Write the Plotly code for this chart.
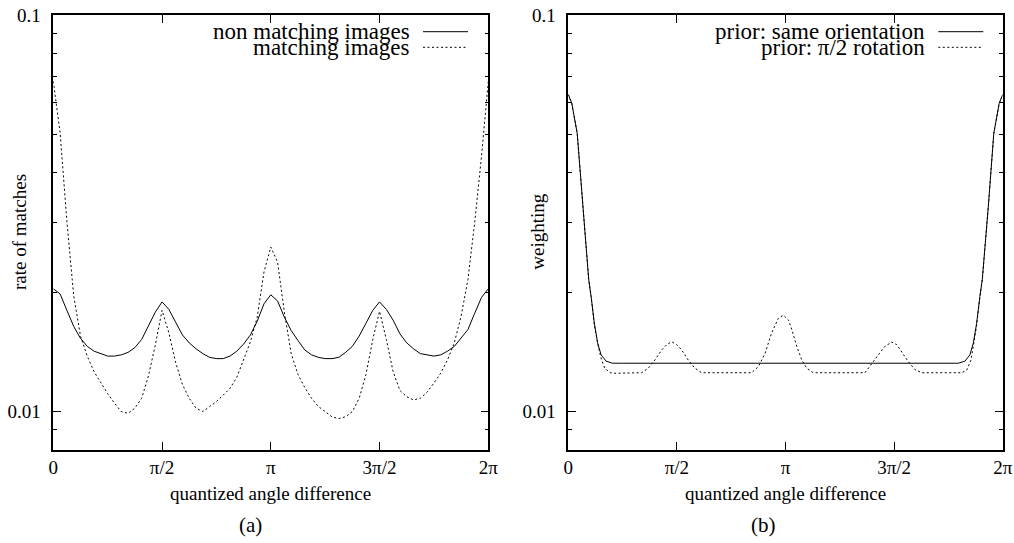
"""Rate of matches / weighting vs quantized angle difference (two panels)."""

import math

import plotly.graph_objects as go

FONT = "Liberation Serif, Times New Roman, Times, serif"

# ---- panel (a): 64 quantized bins over [0, 2pi], x given in units of pi
ANGLE_BINS_A = [i / 32 for i in range(65)]

NON_MATCHING = [
    0.0204, 0.0198, 0.0180, 0.0164, 0.0153, 0.0146, 0.0142, 0.0140,
    0.0138, 0.0138, 0.0139, 0.0141, 0.0145, 0.0152, 0.0164, 0.0178,
    0.0189, 0.0181, 0.0168, 0.0156, 0.0149, 0.0144, 0.0140, 0.0137,
    0.0136, 0.0136, 0.0138, 0.0142, 0.0148, 0.0156, 0.0169, 0.0187,
    0.0197, 0.0190, 0.0173, 0.0160, 0.0151, 0.0143, 0.0139, 0.0137,
    0.0136, 0.0136, 0.0137, 0.0141, 0.0146, 0.0155, 0.0167, 0.0180,
    0.0189, 0.0181, 0.0170, 0.0157, 0.0149, 0.0144, 0.0140, 0.0139,
    0.0138, 0.0139, 0.0142, 0.0146, 0.0153, 0.0161, 0.0177, 0.0194,
    0.0204,
]

MATCHING = [
    0.0680, 0.0505, 0.0302, 0.0196, 0.0155, 0.0138, 0.0126, 0.0118,
    0.0111, 0.0105, 0.0100, 0.0099, 0.0102, 0.0108, 0.0123, 0.0147,
    0.0180, 0.0158, 0.0133, 0.0117, 0.0108, 0.0102, 0.0100, 0.0103,
    0.0106, 0.0110, 0.01145, 0.0122, 0.0135, 0.0150, 0.0173, 0.0225,
    0.0260, 0.0238, 0.0178, 0.0140, 0.0124, 0.0115, 0.0108, 0.0103,
    0.0100, 0.0097, 0.0096, 0.0097, 0.0100, 0.0108, 0.0124, 0.0152,
    0.0179, 0.0152, 0.0126, 0.0113, 0.0109, 0.0107, 0.0108, 0.0112,
    0.0118, 0.0125, 0.0135, 0.0149, 0.0174, 0.0215, 0.0300, 0.0440,
    0.0680,
]

# ---- panel (b): smooth priors, x in units of pi
ANGLE_SAME = [
    0, 0.016, 0.041, 0.066, 0.094, 0.105, 0.12, 0.135, 0.151, 0.174,
    0.204, 0.25, 0.5, 0.75, 1.0, 1.25, 1.5, 1.75, 1.796, 1.826, 1.849,
    1.865, 1.88, 1.895, 1.906, 1.934, 1.959, 1.984, 2.0,
]
PRIOR_SAME = [
    0.063, 0.0599, 0.0503, 0.0330, 0.0215, 0.0195, 0.0167, 0.0149, 0.0139,
    0.0134, 0.01324, 0.01324, 0.01324, 0.01324, 0.01324, 0.01324, 0.01324,
    0.01324, 0.01324, 0.0134, 0.0139, 0.0149, 0.0167, 0.0195, 0.0215,
    0.0330, 0.0503, 0.0599, 0.063,
]

ANGLE_ROT = [
    0, 0.016, 0.041, 0.066, 0.094, 0.105, 0.12, 0.138, 0.153, 0.168,
    0.192, 0.215, 0.338, 0.368, 0.399, 0.430, 0.453, 0.476, 0.499, 0.522,
    0.552, 0.583, 0.614, 0.844, 0.875, 0.906, 0.936, 0.967, 0.990, 1.014,
    1.029, 1.052, 1.075, 1.098, 1.128, 1.366, 1.397, 1.427, 1.458, 1.489,
    1.512, 1.535, 1.565, 1.596, 1.627, 1.811, 1.834, 1.854, 1.865, 1.88,
    1.895, 1.906, 1.934, 1.959, 1.984, 2.0,
]
PRIOR_ROT = [
    0.063, 0.0599, 0.0503, 0.0330, 0.0215, 0.0195, 0.0165, 0.0146, 0.01349,
    0.01286, 0.01253, 0.01249, 0.01253, 0.01286, 0.01349, 0.0143, 0.01475,
    0.0150, 0.01475, 0.0143, 0.01349, 0.01286, 0.01253, 0.01253, 0.01298,
    0.01403, 0.01578, 0.01719, 0.0175, 0.0170, 0.0161, 0.0146, 0.01349,
    0.01286, 0.01253, 0.01253, 0.01316, 0.01389, 0.0146, 0.01497, 0.01475,
    0.01416, 0.01337, 0.01276, 0.01253, 0.01253, 0.0127, 0.01349, 0.0146,
    0.0165, 0.0195, 0.0215, 0.0330, 0.0503, 0.0599, 0.063,
]

X_TICKS = [0, 0.5, 1, 1.5, 2]
X_TICK_LABELS = ["0", "π/2", "π", "3π/2", "2π"]
Y_TICKS = [0.01, 0.1]
Y_TICK_LABELS = ["0.01", "0.1"]
Y_MINOR = [0.008, 0.009, 0.02, 0.03, 0.04, 0.05, 0.06, 0.07, 0.08, 0.09]

DOTTED = "2px,2.5px"

W, H = 1014, 543


def fx(px):
    return px / W


def fy(py):
    return 1 - py / H


fig = go.Figure()

fig.add_trace(go.Scatter(x=ANGLE_BINS_A, y=NON_MATCHING, mode="lines",
                         name="non matching images",
                         line=dict(color="black", width=1), showlegend=False))
fig.add_trace(go.Scatter(x=ANGLE_BINS_A, y=MATCHING, mode="lines",
                         name="matching images",
                         line=dict(color="black", width=1, dash=DOTTED),
                         showlegend=False))
fig.add_trace(go.Scatter(x=ANGLE_SAME, y=PRIOR_SAME, mode="lines",
                         name="prior: same orientation", xaxis="x2", yaxis="y2",
                         line=dict(color="black", width=1), showlegend=False))
fig.add_trace(go.Scatter(x=ANGLE_ROT, y=PRIOR_ROT, mode="lines",
                         name="prior: π/2 rotation", xaxis="x2", yaxis="y2",
                         line=dict(color="black", width=1, dash=DOTTED),
                         showlegend=False))

# plot areas in window pixels
left_a, right_a = 53.3, 488.3
left_b, right_b = 568.3, 1002.7
top, bottom = 15, 450

common_x = dict(
    range=[0, 2], tickvals=X_TICKS, ticktext=X_TICK_LABELS,
    ticks="inside", ticklen=8, tickwidth=1, tickcolor="black",
    showline=True, linecolor="black", linewidth=1.5, mirror="ticks",
    showgrid=False, zeroline=False, ticklabelstandoff=-1, automargin=False,
    ticklabeloverflow="allow",
    tickfont=dict(family=FONT, size=19, color="black"),
)
common_y = dict(
    type="log", range=[math.log10(0.008), -1],
    tickvals=Y_TICKS, ticktext=Y_TICK_LABELS,
    ticks="inside", ticklen=8, tickwidth=1, tickcolor="black",
    minor=dict(tickvals=Y_MINOR, ticks="inside", ticklen=4, tickcolor="black",
               showgrid=False),
    showline=True, linecolor="black", linewidth=1.5, mirror="ticks",
    showgrid=False, zeroline=False, ticklabelstandoff=7, automargin=False,
    ticklabeloverflow="allow",
    tickfont=dict(family=FONT, size=19, color="black"),
)
ydom = [fy(bottom), fy(top)]

fig.update_layout(
    width=W, height=H, autosize=False,
    margin=dict(l=0, r=0, t=0, b=0),
    paper_bgcolor="white", plot_bgcolor="white",
    font=dict(family=FONT, color="black"),
    xaxis=dict(domain=[fx(left_a), fx(right_a)], anchor="y", **common_x),
    yaxis=dict(domain=ydom, anchor="x", **common_y),
    xaxis2=dict(domain=[fx(left_b), fx(right_b)], anchor="y2", **common_x),
    yaxis2=dict(domain=ydom, anchor="x2", **common_y),
)

annotations = []
shapes = []


def add_text(text, px, py, size, xanchor="center", angle=0):
    annotations.append(dict(
        text=text, x=fx(px), y=fy(py), xref="paper", yref="paper",
        xanchor=xanchor, yanchor="middle", showarrow=False, textangle=angle,
        font=dict(family=FONT, size=size, color="black"),
    ))


# axis titles and panel captions
add_text("quantized angle difference", (left_a + right_a) / 2, 493, 19)
add_text("quantized angle difference", (left_b + right_b) / 2, 493, 19)
add_text("rate of matches", 19, 232, 19, angle=-90)
add_text("weighting", 536.7, 232, 19, angle=-90)
add_text("(a)", 250, 525, 21)
add_text("(b)", 763, 525, 21)

# key entries: right-aligned label followed by a line sample
keys = [
    ("non matching images", 412, 423, 468, 31.7, None),
    ("matching images", 412, 423, 468, 47.3, DOTTED),
    ("prior: same orientation", 927.3, 938.3, 983.3, 31.7, None),
    ("prior: π/2 rotation", 927.3, 938.3, 983.3, 47.3, DOTTED),
]
for label, tx, x0, x1, py, dash in keys:
    add_text(label, tx, py, 23, xanchor="right")
    line = dict(color="black", width=1)
    if dash:
        line["dash"] = dash
    shapes.append(dict(type="line", xref="paper", yref="paper",
                       x0=fx(x0), x1=fx(x1), y0=fy(py), y1=fy(py),
                       line=line))

fig.update_layout(annotations=annotations, shapes=shapes)

# drop the browser's default body margin so the figure fills the window
fig.write_html("out.html", config={"displayModeBar": False},
               post_script="document.body.style.margin = '0';")
